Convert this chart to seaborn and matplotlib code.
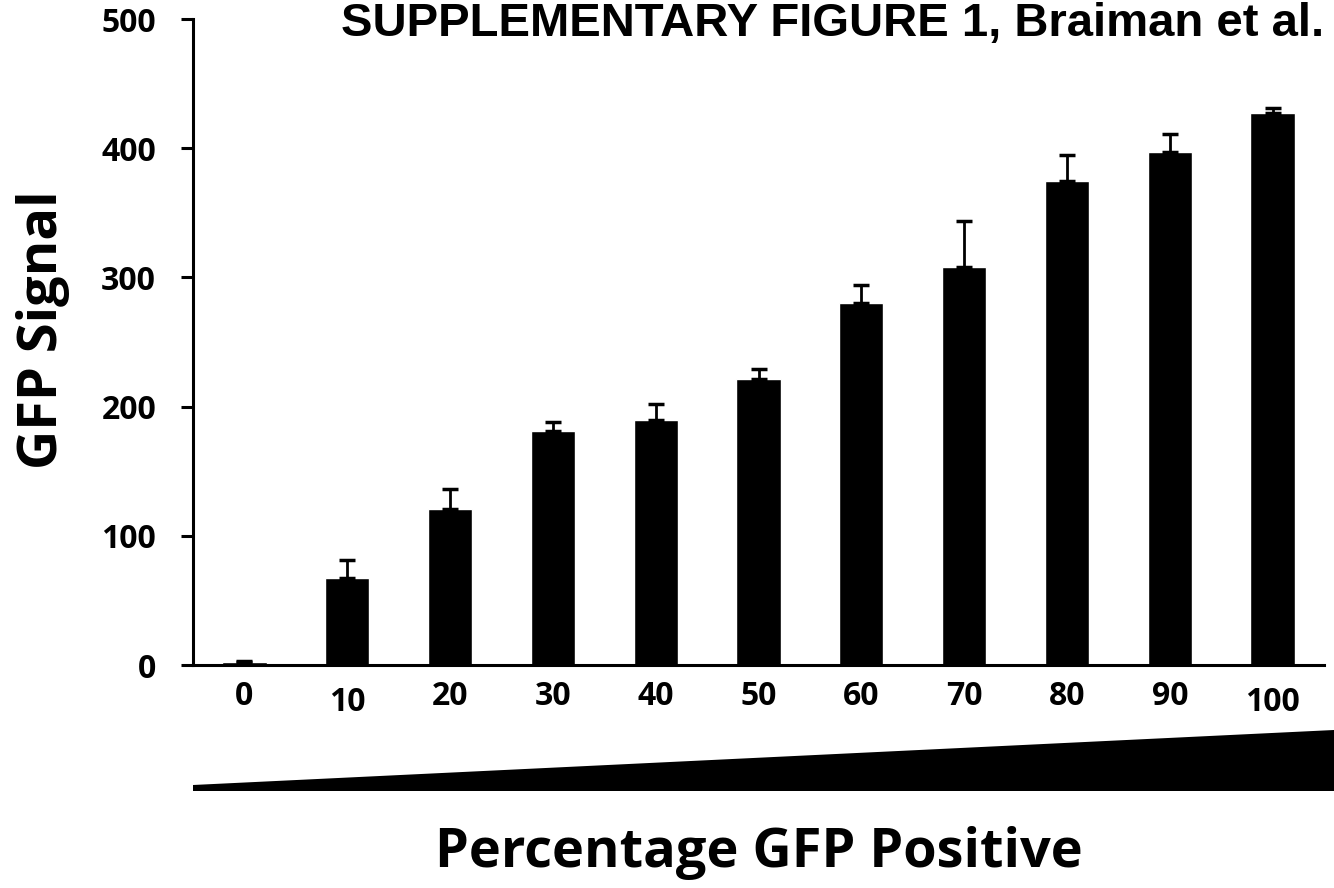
import numpy as np
import pandas as pd
import matplotlib
matplotlib.use("Agg")
import matplotlib.pyplot as plt
import seaborn as sns
from matplotlib.patches import Polygon

# data
pct_labels = ["0", "10", "20", "30", "40", "50", "60", "70", "80", "90", "100"]
gfp_signal = [2, 67, 121, 181, 190, 221, 280, 308, 375, 397, 427]
gfp_err = [1, 14, 15, 7, 12, 8, 14, 36, 20, 14, 4]
y_ticks = [0, 100, 200, 300, 400, 500]

sns.set_theme(style="ticks")
plt.rcParams['font.family'] = ['Open Sans', 'DejaVu Sans']

df = pd.DataFrame({"pct": pct_labels, "signal": gfp_signal, "err": gfp_err})

fig = plt.figure(figsize=(13.34, 8.88), dpi=100)
ax = fig.add_axes([0.1447, 0.2511, 0.8478, 0.7275])

sns.barplot(data=df, x="pct", y="signal", order=pct_labels, color="black",
            saturation=1, width=0.43, errorbar=None, ax=ax)
ax.errorbar(x=np.arange(len(df)), y=df["signal"],
            yerr=[np.zeros(len(df)), df["err"]],
            fmt="none", ecolor="black", elinewidth=2, capsize=6, capthick=2.5)

ax.set_xlim(-0.5, len(df) - 0.5)
ax.set_ylim(0, 500)
ax.set_yticks(y_ticks)
sns.despine(ax=ax)
for s in ["left", "bottom"]:
    ax.spines[s].set_linewidth(2.2)
    ax.spines[s].set_color("black")

ax.tick_params(axis="y", length=8.6, width=2.2, direction="out",
               labelsize=23, pad=18, colors="black")
ax.tick_params(axis="x", length=0, labelsize=23, pad=11, colors="black")
for lab in ax.get_xticklabels() + ax.get_yticklabels():
    lab.set_fontweight("bold")
# "10" and "100" sit a bit lower in the original
for i in [1, 10]:
    ax.xaxis.get_major_ticks()[i].set_pad(15)

ax.set_xlabel("Percentage GFP Positive", fontsize=39, fontweight="bold", color="black")
ax.xaxis.set_label_coords(0.5, -0.313)
ax.xaxis.label.set_verticalalignment("baseline")
ax.set_ylabel("GFP Signal", fontsize=39, fontweight="bold", color="black")
ax.yaxis.set_label_coords(-0.109, 0.5186)

# wedge showing increasing percentage
W, H = 1334, 888
wedge = Polygon([(193 / W, 1 - 785 / H), (1334 / W, 1 - 730 / H),
                 (1334 / W, 1 - 791 / H), (193 / W, 1 - 791 / H)],
                closed=True, facecolor="black", edgecolor="none",
                transform=fig.transFigure)
fig.add_artist(wedge)

fig.text(341 / W, 1 - 36 / H, "SUPPLEMENTARY FIGURE 1, Braiman et al.",
         family=["Liberation Sans", "DejaVu Sans"], fontweight="bold",
         fontsize=34, ha="left", va="baseline", color="black")

fig.savefig("out.png", dpi=100)
